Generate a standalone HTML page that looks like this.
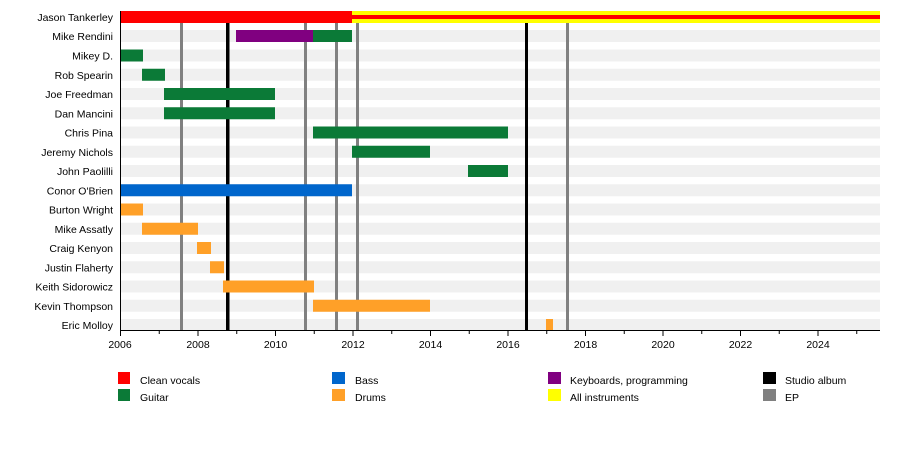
<!DOCTYPE html>
<html><head><meta charset="utf-8"><style>html,body{margin:0;padding:0;background:#fff}svg{display:block}text{font-family:"Liberation Sans",sans-serif;font-size:10.5px;fill:#000}</style></head>
<body>
<svg width="900" height="450" viewBox="0 0 900 450">
<g fill="#f0f0f0">
<rect x="120" y="11" width="760" height="12"/><rect x="120" y="30" width="760" height="12"/><rect x="120" y="49.5" width="760" height="12"/><rect x="120" y="68.75" width="760" height="12"/><rect x="120" y="88" width="760" height="12"/><rect x="120" y="107.25" width="760" height="12"/><rect x="120" y="126.5" width="760" height="12"/><rect x="120" y="145.75" width="760" height="12"/><rect x="120" y="165" width="760" height="12"/><rect x="120" y="184.25" width="760" height="12"/><rect x="120" y="203.5" width="760" height="12"/><rect x="120" y="222.75" width="760" height="12"/><rect x="120" y="242" width="760" height="12"/><rect x="120" y="261.25" width="760" height="12"/><rect x="120" y="280.5" width="760" height="12"/><rect x="120" y="299.75" width="760" height="12"/><rect x="120" y="319" width="760" height="12"/>
</g>
<g>
<rect x="180" y="23" width="3" height="307" fill="#808080"/>
<rect x="226" y="23" width="3.5" height="307" fill="#000"/>
<rect x="304" y="23" width="3" height="307" fill="#808080"/>
<rect x="335" y="23" width="3" height="307" fill="#808080"/>
<rect x="356" y="23" width="3" height="307" fill="#808080"/>
<rect x="525" y="23" width="3" height="307" fill="#000"/>
<rect x="566" y="23" width="3" height="307" fill="#808080"/>
</g>
<rect x="120" y="11" width="232" height="12" fill="#ff0000"/>
<rect x="352" y="11" width="528" height="12" fill="#ffff00"/>
<rect x="352" y="15" width="528" height="4" fill="#ff0000"/>
<rect x="236" y="30" width="77" height="12" fill="#800080"/>
<g fill="#0b7a37">
<rect x="313" y="30" width="39" height="12"/>
<rect x="120" y="49.5" width="23" height="12"/>
<rect x="142" y="68.75" width="23" height="12"/>
<rect x="164" y="88" width="111" height="12"/>
<rect x="164" y="107.25" width="111" height="12"/>
<rect x="313" y="126.5" width="195" height="12"/>
<rect x="352" y="145.75" width="78" height="12"/>
<rect x="468" y="165" width="40" height="12"/>
</g>
<rect x="120" y="184.25" width="232" height="12" fill="#0066cc"/>
<g fill="#ffa028">
<rect x="120" y="203.5" width="23" height="12"/>
<rect x="142" y="222.75" width="56" height="12"/>
<rect x="197" y="242" width="14" height="12"/>
<rect x="210" y="261.25" width="14" height="12"/>
<rect x="223" y="280.5" width="91" height="12"/>
<rect x="313" y="299.75" width="117" height="12"/>
<rect x="546" y="319" width="7" height="12"/>
</g>
<g text-anchor="end">
<text x="113" y="21">Jason Tankerley</text><text x="113" y="40">Mike Rendini</text><text x="113" y="59.5">Mikey D.</text><text x="113" y="78.75">Rob Spearin</text><text x="113" y="98">Joe Freedman</text><text x="113" y="117.25">Dan Mancini</text><text x="113" y="136.5">Chris Pina</text><text x="113" y="155.75">Jeremy Nichols</text><text x="113" y="175">John Paolilli</text><text x="113" y="194.25">Conor O'Brien</text><text x="113" y="213.5">Burton Wright</text><text x="113" y="232.75">Mike Assatly</text><text x="113" y="252">Craig Kenyon</text><text x="113" y="271.25">Justin Flaherty</text><text x="113" y="290.5">Keith Sidorowicz</text><text x="113" y="309.75">Kevin Thompson</text><text x="113" y="329">Eric Molloy</text>
</g>
<g stroke="#000" stroke-width="1">
<line x1="120.5" y1="11" x2="120.5" y2="331"/>
<line x1="120" y1="330.5" x2="880" y2="330.5"/>
<path d="M120.5 331v5M159.25 331v3M198 331v5M236.75 331v3M275.5 331v5M314.25 331v3M353 331v5M391.75 331v3M430.5 331v5M469.25 331v3M508 331v5M546.75 331v3M585.5 331v5M624.25 331v3M663 331v5M701.75 331v3M740.5 331v5M779.25 331v3M818 331v5M856.75 331v3"/>
</g>
<g text-anchor="middle">
<text x="120" y="348">2006</text><text x="198" y="348">2008</text><text x="275.5" y="348">2010</text><text x="353" y="348">2012</text><text x="430.5" y="348">2014</text><text x="508" y="348">2016</text><text x="585.5" y="348">2018</text><text x="663" y="348">2020</text><text x="740.5" y="348">2022</text><text x="818" y="348">2024</text>
</g>
<rect x="118" y="372" width="12" height="12" fill="#ff0000"/><text x="140" y="384">Clean vocals</text>
<rect x="118" y="389" width="12" height="12" fill="#0b7a37"/><text x="140" y="401">Guitar</text>
<rect x="332" y="372" width="13" height="12" fill="#0066cc"/><text x="355" y="384">Bass</text>
<rect x="332" y="389" width="13" height="12" fill="#ffa028"/><text x="355" y="401">Drums</text>
<rect x="548" y="372" width="13" height="12" fill="#800080"/><text x="570" y="384">Keyboards, programming</text>
<rect x="548" y="389" width="13" height="12" fill="#ffff00"/><text x="570" y="401">All instruments</text>
<rect x="763" y="372" width="13" height="12" fill="#000"/><text x="785" y="384">Studio album</text>
<rect x="763" y="389" width="13" height="12" fill="#808080"/><text x="785" y="401">EP</text>
</svg>
</body></html>
